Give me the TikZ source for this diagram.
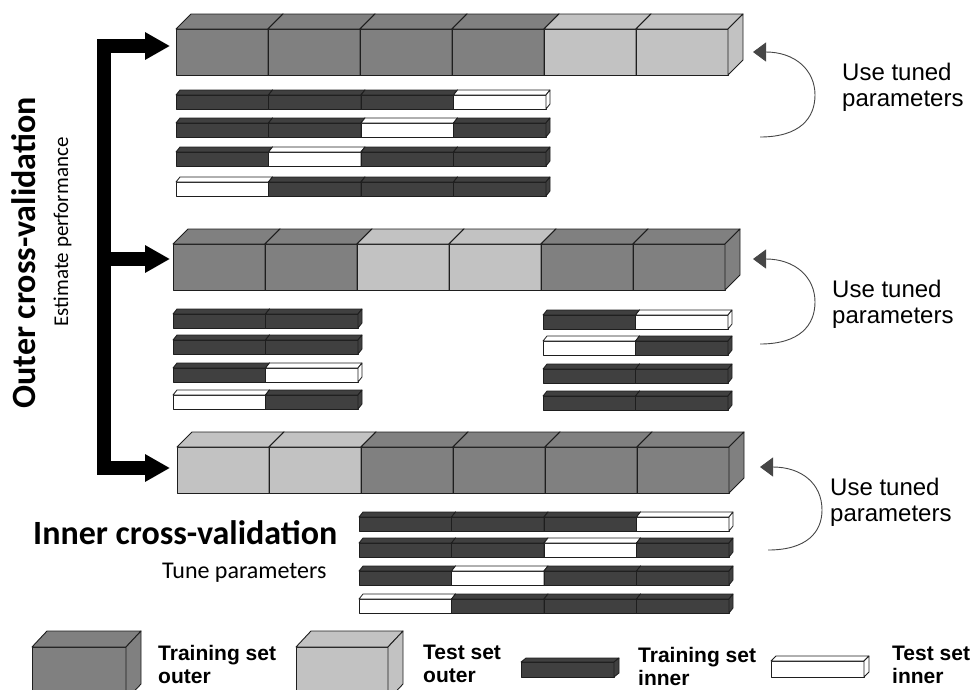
\documentclass[tikz,border=0pt]{standalone}
\usepackage{fontspec}
\setmainfont{Liberation Sans}
\newfontfamily\calibri{Carlito}
\usetikzlibrary{arrows.meta}

\definecolor{trainouter}{RGB}{128,128,128}
\definecolor{testouter}{RGB}{194,194,194}
\definecolor{traininner}{RGB}{64,64,64}
\definecolor{testinner}{RGB}{255,255,255}
\definecolor{edgegray}{RGB}{30,30,30}
\definecolor{loopgray}{RGB}{70,70,70}

\tikzset{
  outerface/.style={draw=edgegray, line width=0.9pt, line join=round},
  innerface/.style={draw=edgegray, line width=0.8pt, line join=round},
  bigarrow/.style={line width=14pt, line join=miter, >={Triangle[length=25pt,width=26pt]}},
  tunearrow/.style={draw=loopgray, line width=0.9pt, -{Triangle[length=13pt,width=19pt]}},
  tunetext/.style={font=\fontsize{24}{26}\selectfont, align=left, anchor=base west, inner sep=0pt},
  legendtext/.style={font=\fontsize{21}{23}\selectfont\bfseries, align=left, anchor=base west, inner sep=0pt},
  titletext/.style={font=\calibri\bfseries\fontsize{34}{36}\selectfont, inner sep=0pt},
  subtext/.style={font=\calibri\fontsize{21}{24}\selectfont, inner sep=0pt},
}

% outer fold row: x, y of front top, list of colours
\newcommand{\outerrow}[3]{%
  \foreach \fc [count=\i from 0] in {#3} {
    \pgfmathsetmacro{\xa}{#1+\i*92}
    \pgfmathsetmacro{\xb}{\xa+92}
    \filldraw[outerface, fill=\fc] (\xa,#2) rectangle (\xb,#2+46);
    \filldraw[outerface, fill=\fc] (\xa,#2) -- (\xa+15,#2-15) -- (\xb+15,#2-15) -- (\xb,#2) -- cycle;
    \filldraw[outerface, fill=\fc] (\xb,#2) -- (\xb+15,#2-15) -- (\xb+15,#2+31) -- (\xb,#2+46) -- cycle;
  }}

% inner fold row: x, y of front top, list of colours
\newcommand{\innerrow}[3]{%
  \foreach \fc [count=\i from 0] in {#3} {
    \pgfmathsetmacro{\xa}{#1+\i*92.5}
    \pgfmathsetmacro{\xb}{\xa+92.5}
    \filldraw[innerface, fill=\fc] (\xa,#2) rectangle (\xb,#2+14);
    \filldraw[innerface, fill=\fc] (\xa,#2) -- (\xa+4,#2-5) -- (\xb+4,#2-5) -- (\xb,#2) -- cycle;
    \filldraw[innerface, fill=\fc] (\xb,#2) -- (\xb+4,#2-5) -- (\xb+4,#2+9) -- (\xb,#2+14) -- cycle;
  }}

\begin{document}
\begin{tikzpicture}[x=1pt,y=1pt,yscale=-1]
    \useasboundingbox (0,0) rectangle (972,689);
    \clip (0,0) rectangle (972,689);

    % Outer folds
    \outerrow{176}{29}{trainouter,trainouter,trainouter,trainouter,testouter,testouter}
    \outerrow{173}{244}{trainouter,trainouter,testouter,testouter,trainouter,trainouter}
    \outerrow{177}{447}{testouter,testouter,trainouter,trainouter,trainouter,trainouter}

    % Inner folds, first outer fold
    \innerrow{176}{95}{traininner,traininner,traininner,testinner}
    \innerrow{176}{123}{traininner,traininner,testinner,traininner}
    \innerrow{176}{152}{traininner,testinner,traininner,traininner}
    \innerrow{176}{182}{testinner,traininner,traininner,traininner}

    % Inner folds, second outer fold
    \innerrow{173}{314}{traininner,traininner}
    \innerrow{173}{340}{traininner,traininner}
    \innerrow{173}{368}{traininner,testinner}
    \innerrow{173}{395}{testinner,traininner}
    \innerrow{543}{315}{traininner,testinner}
    \innerrow{543}{341}{testinner,traininner}
    \innerrow{543}{369}{traininner,traininner}
    \innerrow{543}{396}{traininner,traininner}

    % Inner folds, third outer fold
    \innerrow{359}{517}{traininner,traininner,traininner,testinner}
    \innerrow{359}{543}{traininner,traininner,testinner,traininner}
    \innerrow{359}{571}{traininner,testinner,traininner,traininner}
    \innerrow{359}{599}{testinner,traininner,traininner,traininner}

    % Outer loop arrow
    \coordinate (foldtop) at (170,46);
    \coordinate (foldmid) at (170,259);
    \coordinate (foldbot) at (170,468);
    \coordinate (spinetop) at (104,46);
    \coordinate (spinemid) at (104,259);
    \coordinate (spinebot) at (104,468);
    \draw[bigarrow, <->] (foldtop) -- (spinetop) -- (spinebot) -- (foldbot);
    \draw[bigarrow, ->] (spinemid) -- (foldmid);

    % Tuned parameter loops
    \coordinate (looptopa) at (760,137);
    \coordinate (looptopb) at (753,52);
    \coordinate (loopmida) at (760,344);
    \coordinate (loopmidb) at (753,259);
    \coordinate (loopbota) at (768,550);
    \coordinate (loopbotb) at (760,467);
    \draw[tunearrow] (looptopa) .. controls (800,137) and (815,118) .. (815,95) .. controls (815,70) and (795,52) .. (looptopb);
    \draw[tunearrow] (loopmida) .. controls (800,344) and (815,325) .. (815,302) .. controls (815,277) and (795,259) .. (loopmidb);
    \draw[tunearrow] (loopbota) .. controls (807,550) and (822,532) .. (822,510) .. controls (822,484) and (802,467) .. (loopbotb);

    % Text Node (base of a two-line node is its last line)
    \node[tunetext] (tunetop) at (842,106) {Use tuned\\parameters};
    \node[tunetext] (tunemid) at (832,323) {Use tuned\\parameters};
    \node[tunetext] (tunebot) at (830,521) {Use tuned\\parameters};
    \node[titletext, rotate=90, anchor=base] (outertitle) at (35,253) {Outer cross-validation};
    \node[subtext, rotate=90, anchor=base] (outersub) at (68,232) {Estimate performance};
    \node[titletext, anchor=base west] (innertitle) at (33,544) {Inner cross-validation};
    \node[subtext, anchor=base west, font=\calibri\fontsize{24}{26}\selectfont] (innersub) at (162,578) {Tune parameters};

    % Legend
    \filldraw[outerface, fill=trainouter] (32,647) rectangle (126,700);
    \filldraw[outerface, fill=trainouter] (32,647) -- (47,631) -- (141,631) -- (126,647) -- cycle;
    \filldraw[outerface, fill=trainouter] (126,647) -- (141,631) -- (141,684) -- (126,700) -- cycle;
    \filldraw[outerface, fill=testouter] (296,647) rectangle (388,700);
    \filldraw[outerface, fill=testouter] (296,647) -- (311,631) -- (403,631) -- (388,647) -- cycle;
    \filldraw[outerface, fill=testouter] (388,647) -- (403,631) -- (403,684) -- (388,700) -- cycle;
    \filldraw[innerface, fill=traininner] (521,662) rectangle (614,677);
    \filldraw[innerface, fill=traininner] (521,662) -- (526,658) -- (619,658) -- (614,662) -- cycle;
    \filldraw[innerface, fill=traininner] (614,662) -- (619,658) -- (619,673) -- (614,677) -- cycle;
    \filldraw[innerface, fill=testinner] (771,661) rectangle (864,677);
    \filldraw[innerface, fill=testinner] (771,661) -- (776,656) -- (869,656) -- (864,661) -- cycle;
    \filldraw[innerface, fill=testinner] (864,661) -- (869,656) -- (869,672) -- (864,677) -- cycle;
    \node[legendtext] (keytrainouter) at (158,683) {Training set\\outer};
    \node[legendtext] (keytestouter) at (423,682) {Test set\\outer};
    \node[legendtext] (keytraininner) at (638,685) {Training set\\inner};
    \node[legendtext] (keytestinner) at (892,683) {Test set\\inner};
\end{tikzpicture}
\end{document}
